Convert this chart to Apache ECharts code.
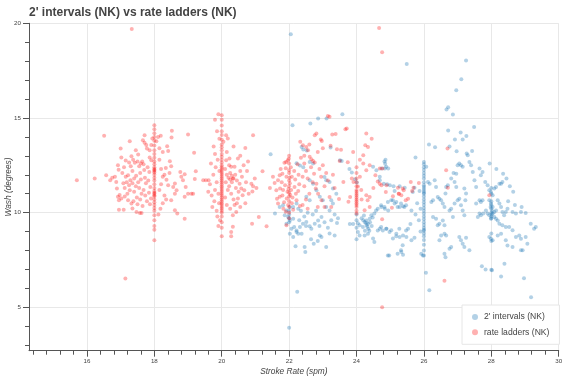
<!DOCTYPE html>
<html>
<head>
<meta charset="utf-8">
<script src="https://cdn.jsdelivr.net/npm/echarts@6/dist/echarts.min.js"></script>
<style>
html,body{margin:0;padding:0;background:#fff;}
#chart{width:564px;height:380px;}
</style>
</head>
<body>
<div id="chart"></div>
<script>
// ---- Data: [stroke rate (spm), wash (degrees)] ----
const ladders18 = [
[15.70,11.71],[16.23,11.80],[16.51,14.06],[16.57,11.98],[16.69,11.71],[16.75,11.85],[16.83,11.89],[16.92,12.50],[16.94,12.27],[17.00,13.39],[17.02,12.91],[16.87,11.62],[16.89,11.27],[16.92,10.84],[16.95,10.66],[16.97,10.93],[17.02,10.75],[16.95,10.16],[17.09,10.16],[17.27,13.77],[17.22,11.98],[17.25,11.45],[17.29,11.71],[17.27,11.18],[17.22,10.66],[17.32,10.48],[17.35,10.22],[17.32,12.98],[17.37,12.80],[17.42,12.63],[17.45,13.30],[17.52,13.07],[17.47,10.04],[17.57,9.98],[17.62,9.98],[17.71,14.09],[17.66,13.83],[17.71,13.69],[17.76,13.57],[17.78,13.39],[17.86,13.30],[17.91,13.57],[17.94,13.92],[17.86,12.91],[17.91,12.77],
[17.10,12.40],[17.15,11.90],[17.18,11.60],[17.12,11.30],[17.20,11.00],[17.05,12.10],[17.35,12.20],[17.40,11.80],[17.45,11.40],[17.40,11.10],[17.48,10.80],[17.38,10.60],[17.55,12.45],[17.58,12.10],[17.60,11.75],[17.55,11.30],[17.62,11.00],[17.58,10.70],[17.50,10.45],[17.68,12.55],[17.70,12.25],[17.72,11.85],[17.75,11.55],[17.68,11.20],[17.73,10.90],[17.78,10.60],[17.65,10.35],[17.80,12.40],[17.85,12.15],[17.82,11.70],[17.88,11.35],[17.84,11.05],[17.90,10.75],[17.87,10.45],[17.25,12.65],[17.30,12.45],[17.15,12.75],[17.60,12.60],[17.64,12.70],[17.50,12.70],[17.08,11.55],[17.12,10.85],[17.46,11.95],[17.52,11.60],[17.35,11.55],
[18,14.62],[18,14.40],[18,14.20],[18,14.00],[18,13.80],[18,13.55],[18,13.30],[18,13.10],[18,12.90],[18,12.70],[18,12.55],[18,12.40],[18,12.30],[18,12.25],[18,12.20],[18,12.12],[18,12.00],[18,11.85],[18,11.70],[18,11.50],[18,11.30],[18,11.15],[18,11.05],[18,11.00],[18,10.92],[18,10.85],[18,10.70],[18,10.55],[18,10.40],[18,10.25],[18,10.10],[18,9.86],[18,9.60],[18,9.30],[18,9.10],[18,8.54],
[18.19,14.06],[18.11,14.00],[18.06,13.77],[18.38,13.51],[18.41,13.25],[18.46,12.72],[18.50,12.45],[18.34,12.36],[18.36,11.74],[18.41,11.45],[18.56,11.36],[18.61,11.54],[18.66,11.18],[18.61,11.00],[18.50,10.66],[18.61,10.13],[18.68,9.95],[18.52,14.32],[18.51,13.97],[18.77,12.15],[18.80,11.89],[18.85,11.71],[18.90,12.03],[18.93,11.36],[19.00,11.00],[18.90,10.84],[19.00,14.13],[18.90,9.68],[19.18,13.16],[19.23,12.19],[19.20,11.78],[19.10,11.00],[19.15,11.00],[18.15,12.80],[18.20,12.30],[18.25,11.90],[18.20,11.50],[18.15,11.20],[18.30,10.90],[18.25,10.50],[18.18,10.20],[18.30,12.00],[18.45,12.10],[18.35,10.70],[18.12,9.90],[18.25,13.20],[18.15,13.40]
];
const ladders20 = [
[19.45,11.71],[19.53,11.71],[19.61,11.71],[19.65,11.50],[19.75,12.00],[19.80,11.20],[19.70,10.90],[19.78,10.60],[19.72,10.30],[19.85,10.10],[19.82,12.40],[19.88,12.80],[19.80,13.10],[19.85,11.60],[19.90,11.00],[19.92,10.50],[19.93,12.20],[19.76,13.50],[19.90,15.20],[19.80,14.90],[19.86,14.30],[19.93,13.90],[19.68,12.60],[19.60,11.10],[19.87,9.80],[19.95,9.60],[19.90,9.30],
[20,15.15],[20,14.90],[20,14.60],[20,14.30],[20,14.10],[20,13.85],[20,13.60],[20,13.45],[20,13.30],[20,13.10],[20,12.95],[20,12.80],[20,12.65],[20,12.50],[20,12.40],[20,12.30],[20,12.20],[20,12.10],[20,12.00],[20,11.90],[20,11.80],[20,11.70],[20,11.60],[20,11.50],[20,11.40],[20,11.30],[20,11.20],[20,11.10],[20,11.00],[20,10.90],[20,10.80],[20,10.70],[20,10.60],[20,10.50],[20,10.40],[20,10.30],[20,10.20],[20,10.10],[20,10.00],[20,9.80],[20,9.50],[20,9.20],[20,8.75],
[20.28,8.75],[20.28,8.98],[20.33,9.25],[20.13,14.09],[20.18,13.92],[20.05,13.74],[20.13,12.77],[20.23,12.86],[20.38,12.42],[20.48,12.86],[20.28,12.42],[20.33,11.80],[20.53,11.53],[20.58,11.27],[20.62,10.92],[20.48,10.75],[20.38,10.40],[20.43,10.04],[20.33,9.86],[20.67,11.18],[20.70,13.42],[20.93,14.09],[20.88,11.53],[20.90,9.42],[21.10,9.77],[20.93,11.40],[20.98,11.80],[20.91,11.12],[21.03,11.30],[20.10,12.30],[20.15,12.00],[20.12,11.60],[20.18,11.20],[20.10,10.80],[20.15,10.40],[20.22,12.50],[20.25,12.10],[20.30,11.60],[20.22,11.40],[20.28,11.00],[20.35,10.70],[20.25,10.20],[20.40,12.00],[20.45,11.70],[20.42,11.30],[20.50,11.10],[20.45,10.50],[20.55,12.20],[20.60,11.90],[20.55,10.30],[20.65,12.50],[20.72,11.60],[20.75,12.20],[20.70,10.50],[20.80,11.00],[20.78,12.70],[20.15,13.20],[20.35,13.50],[20.55,13.00],[20.20,11.85],[20.25,11.75],[20.30,11.95],[20.35,11.80]
];
const ladders22 = [
[21.21,12.19],[21.33,9.28],[21.43,11.30],[21.52,11.89],[21.57,11.57],[21.62,11.18],[21.64,10.74],[21.67,10.48],[21.67,11.71],[21.72,11.98],[21.73,11.27],[21.72,10.84],[21.86,12.63],[21.91,12.68],[21.96,12.77],[22.00,12.24],[21.92,9.33],
[21.75,12.30],[21.80,12.05],[21.78,11.60],[21.82,11.20],[21.80,10.90],[21.85,10.55],[21.83,10.20],[21.90,12.35],[21.92,11.90],[21.88,11.45],[21.95,11.10],[21.93,10.75],[21.97,10.40],[21.90,10.05],[22.00,12.60],[22.00,12.10],[22.00,11.70],[22.00,11.40],[22.00,11.05],[22.00,10.85],[22.00,10.60],[22.00,10.30],[22.00,10.00],[22.02,11.55],[22.05,12.40],[22.08,11.90],[22.06,11.20],[22.10,10.80],[22.08,10.50],[22.12,10.15],[22.15,12.20],[22.18,11.75],[22.16,11.35],[22.20,11.00],[22.22,10.65],[22.25,12.55],[22.28,12.00],[22.30,11.50],[22.27,11.15],[22.32,10.35],[21.98,11.25],[22.03,10.95],[22.01,11.85],[21.99,12.85],[22.00,13.00],[22.00,9.70],
[22.33,13.74],[22.41,13.56],[22.51,13.47],[22.56,13.30],[22.61,12.95],[22.66,12.82],[22.71,12.73],[22.76,12.65],[22.76,14.09],[22.81,14.18],[22.94,13.86],[22.97,13.79],[23.15,15.10],[23.20,15.06],[23.28,14.13],[23.38,14.15],[23.23,13.53],[23.42,13.35],[23.54,13.32],[23.61,11.62],[23.67,14.40],[23.71,14.45],[23.50,12.73],[23.74,12.66],[22.74,12.05],[22.81,11.53],[22.79,11.27],[22.86,11.00],[22.96,10.65],[23.05,10.30],[23.20,10.83],[23.25,10.30],[23.48,10.72],
[22.45,12.60],[22.50,12.20],[22.55,11.80],[22.45,11.40],[22.60,11.00],[22.50,10.70],[22.65,12.40],[22.70,11.60],[22.90,12.30],[22.95,11.90],[23.00,12.50],[23.10,12.10],[23.05,11.40],[23.15,11.70],[23.30,12.00],[23.35,11.30],[22.40,10.40],[22.55,10.20],[22.85,10.30],[22.35,12.90],[22.45,13.00],[22.60,13.60],[22.85,13.20],[23.00,13.40],[22.40,11.90]
];
const ladders24 = [
[24,12.40],[24,12.10],[24,11.80],[24,11.60],[24,11.40],[24,11.20],[24,11.10],[24,11.00],[24,10.90],[24,10.80],[24,10.70],[24,10.60],[24,10.50],[24,10.40],[24,10.30],[24,10.10],[24,9.95],
[23.86,11.80],[23.91,11.62],[24.04,11.38],[24.14,11.20],[24.29,10.92],[24.39,10.83],[24.39,10.30],[24.24,10.13],[24.33,10.65],[23.81,10.83],[23.76,10.57],[24.29,14.18],[24.34,13.47],[24.26,13.56],[24.20,13.03],[24.20,12.59],[24.39,12.50],[24.29,12.24],[24.56,11.98],[24.63,11.65],[25.37,11.27],[25.40,11.18],[25.25,11.00],[24.76,9.65],[24.69,12.33],[24.77,12.33],[24.69,11.53],[24.74,11.45],[24.89,11.45],[24.87,11.09],[25.08,10.86],[25.23,11.32],[25.26,11.00],[25.33,10.92],[25.46,10.65],[25.53,10.74],[25.61,11.62],[25.65,11.15],[25.69,11.32],[25.85,11.57],[25.05,10.26],[24.10,12.80],[24.45,13.90],[23.90,13.20],[24.15,10.70],[24.50,11.30],[24.10,11.90]
];
const laddersOther = [
[17.33,19.70],[24.67,19.75],[24.76,18.47],[17.14,6.52],[24.76,5.00],[26.61,6.40],[26.70,13.39],[26.66,12.24],[26.71,11.32],[27.94,10.92]
];

const intervals22 = [
[21.45,13.09],[22.10,14.62],[22.63,14.71],[22.86,14.97],[23.11,14.97],[23.58,15.20],[22.37,13.47],[22.42,13.33],[22.52,13.28],[22.61,12.68],[22.71,12.59],[23.23,13.44],[23.51,12.77],[23.56,12.73],[22.22,12.61],[22.32,12.49],[22.42,12.40],[21.58,9.95],[21.72,10.30],[21.82,10.39],[21.92,10.12],[22.02,10.30],[22.12,10.30],[22.22,10.48],[22.27,10.21],[21.87,9.86],[21.97,9.77],[22.02,9.59],[22.12,9.68],[21.92,9.42],[22.07,9.15],[22.15,9.24],[22.22,9.06],[22.32,9.24],[22.41,9.42],[22.51,9.51],[22.61,9.28],[22.66,9.15],[22.76,9.42],[22.86,9.59],[22.96,9.77],[22.02,8.89],[22.12,8.71],[22.22,8.98],[22.27,8.89],[22.37,8.89],[22.19,8.22],[22.46,8.19],[22.48,7.92],[22.73,8.36],[22.91,8.80],[22.96,8.71],[23.10,8.19],[23.35,8.80],[23.42,9.45],[23.05,11.88],[23.10,11.71],[23.20,11.62],[23.30,11.27],[23.40,11.00],[23.25,10.65],[23.30,10.48],[23.00,10.65],[23.10,10.30],[23.20,10.12],[22.61,11.71],[22.71,11.53],[22.81,11.18],[22.91,10.84],[22.51,10.84],[22.61,10.65],[22.30,9.60],[22.45,9.80],[22.55,10.00],[22.70,9.90],[22.80,10.10],[22.35,10.10],[22.50,9.30],[22.90,9.30],[23.05,9.50],[23.15,9.20],[23.25,9.60],[23.35,9.90],[23.45,9.70],[22.65,8.60],[22.85,8.50],[23.20,8.90],[22.00,9.90],[22.00,9.70],[22.00,9.50],[22.00,10.10]
];
const intervals24 = [
[23.80,9.40],[23.90,9.40],[24.04,9.44],[24.09,9.33],[24.19,9.24],[24.24,9.51],[24.29,9.59],[24.34,9.42],[24.39,9.68],[24.44,9.86],[24.53,9.95],[24.58,10.12],[24.63,10.21],[24.73,10.39],[24.83,10.30],[24.93,10.56],[25.03,10.65],[25.13,10.48],[25.22,10.30],[25.32,10.48],[25.42,10.30],[25.47,10.39],[24.04,8.98],[24.09,8.80],[24.24,8.80],[24.34,8.89],[24.49,8.63],[24.53,8.45],[24.63,9.06],[24.73,9.24],[24.78,9.06],[24.88,9.15],[24.98,8.98],[25.08,8.63],[25.18,8.89],[25.27,9.15],[25.37,8.28],[25.47,9.06],[24.93,7.74],[25.32,8.02],[25.22,7.83],[24.30,9.35],[24.32,9.25],[24.28,9.45],[24.35,9.15],[24.25,9.05],[24.40,9.50],[24.20,9.60],[24.15,9.70],[24.45,9.30],[24.38,9.05],[24.22,9.85],[24.48,9.75],[24.00,9.90],[24.00,9.60],[24.00,9.20],[24.00,8.60],[23.79,12.30],[23.86,12.12],[23.96,11.77],[24.01,11.59],[24.49,12.42],[24.59,12.24],[24.69,11.89],[24.83,12.70],[24.86,12.79],[24.74,12.33],[24.88,12.42],[24.85,12.58],[24.84,12.33],[24.94,12.33],[24.69,11.71],[24.81,11.53],[24.91,11.50],[24.99,11.45],[25.10,11.39],[25.28,11.39],[25.43,11.32],[25.13,11.15],[25.08,10.65],[25.18,10.56],[25.28,10.30],[25.38,10.34],[25.63,10.12],[25.67,11.09],[25.72,11.32],[25.87,11.15],[24.74,10.30],[24.84,10.21],[24.94,10.12],[24.69,9.15],[24.89,9.15],[25.03,9.07],[25.18,8.75],[25.28,8.71],[25.38,8.80],[25.48,8.71],[25.63,8.54],[25.53,9.15],[25.33,7.92],[25.38,7.78],[24.97,7.74],[25.72,8.68],[25.92,7.83],[25.97,7.74],[25.80,10.50],[25.90,10.20],[25.75,9.90],[25.85,9.60],[25.60,9.40],[25.90,9.00],[25.75,12.91]
];
const intervals26 = [
[26,12.68],[26,12.55],[26,12.40],[26,12.25],[26,12.10],[26,11.95],[26,11.80],[26,11.60],[26,11.45],[26,11.35],[26,11.25],[26,11.15],[26,11.05],[26,11.00],[26,10.85],[26,10.70],[26,10.55],[26,10.40],[26,10.25],[26,10.10],[26,9.95],[26,9.80],[26,9.65],[26,9.50],[26,9.35],[26,9.20],[26,9.10],[26,9.05],[26,8.90],[26,8.75],[26,8.55],[26,8.30],[26,8.00],[26,7.74],
[26.15,13.60],[26.33,13.46],[26.07,12.42],[26.12,11.62],[26.17,11.53],[26.22,10.56],[26.27,10.65],[26.32,11.71],[26.36,11.36],[26.41,10.83],[26.46,10.74],[26.51,10.65],[26.56,10.48],[26.61,10.30],[26.64,11.01],[26.66,11.36],[26.71,11.45],[26.27,9.77],[26.36,9.68],[26.41,9.33],[26.46,9.42],[26.56,9.59],[26.61,9.33],[26.51,8.80],[26.46,8.54],[26.61,8.89],[26.66,8.80],[26.76,10.12],[26.81,10.21],[26.86,9.77],[26.91,10.48],[27.00,10.65],[27.05,10.74],[27.10,10.39],[27.15,10.12],[27.20,9.86],[27.23,10.65],[27.25,11.01],[27.20,11.27],[26.96,12.06],[27.00,12.50],[27.05,12.59],[27.10,12.50],[27.15,12.42],[27.27,13.12],[27.30,13.03],[27.35,12.68],[27.40,12.50],[27.43,13.26],[26.81,11.80],[26.91,11.62],[26.96,11.36],[26.88,12.10],[27.05,8.71],[27.10,8.54],[27.15,8.36],[27.20,8.18],[27.25,8.68],[27.35,8.01],[26.81,8.18],[26.76,8.10],[26.64,7.65],[26.61,7.83],[26.72,15.56],[26.67,15.45],[26.86,15.18],[27.49,14.53],[26.72,14.34],[27.09,14.23],[27.26,14.05],[26.76,13.50],[26.92,13.86],[27.15,13.86],[26.97,13.24]
];
const intervals28 = [
[27.45,12.15],[27.50,11.71],[27.55,11.36],[27.65,12.33],[27.69,11.98],[27.74,12.15],[27.65,10.65],[27.69,10.56],[27.74,10.65],[27.55,10.48],[27.60,9.77],[27.65,9.95],[27.69,9.86],[27.76,9.95],[27.82,11.62],[27.89,11.45],[27.94,11.18],[27.99,11.09],[28.04,10.92],[28.09,11.27],[28.14,11.36],[28.24,11.53],[28.29,11.53],[28.33,11.62],[28.45,11.80],[27.94,10.65],[27.99,10.48],[28.04,10.30],[28.09,10.04],[28.14,10.12],[28.19,10.65],[28.24,10.48],[28.29,10.30],[28.33,10.04],[28.38,9.86],[28.43,10.04],[28.48,10.21],[27.84,10.12],[27.89,9.95],[27.94,9.86],[27.99,9.68],[28.04,9.95],[28.09,9.77],[28.14,9.68],[28.19,9.59],[28.24,9.42],[28.33,9.33],[28.43,9.24],[28.53,9.24],[28.63,9.07],[28.73,8.71],[28.83,8.80],[28.88,8.62],[29.02,8.71],[29.17,9.42],[29.27,9.15],[29.32,9.24],[29.07,8.36],[27.94,8.71],[27.99,8.62],[28.04,8.54],[28.19,8.80],[28.29,8.89],[28.43,8.54],[28.48,8.27],[28.63,8.18],[28.93,8.01],[28.88,8.01],[28.63,10.04],[28.73,9.95],[28.88,10.04],[29.02,9.98],[28.00,10.60],[28.00,10.40],[28.00,10.20],[28.00,10.00],[28.00,9.80],[28.00,9.70],[28.02,10.10],[27.98,10.30],[28.01,9.90],[28.00,11.00],[28.00,11.30],[28.00,8.90],[28.00,8.50],[27.95,12.60],[28.15,12.30],[28.35,12.05],[28.55,11.40],[28.65,11.10],[28.50,10.60],[28.70,10.40],[28.90,10.30]
];
const intervalsOther = [
[22.05,19.42],[25.49,17.85],[27.25,18.04],[27.11,17.04],[26.96,16.47],[22.00,3.92],[22.24,5.82],[26.16,5.90],[29.18,5.53],[28.97,6.54],[28.29,6.63],[28.39,7.30],[28.02,6.96],[28.00,6.98],[27.72,7.17],[27.83,7.00],[26.06,6.83]
];

const seriesNames = ["2' intervals (NK)", "rate ladders (NK)"];
const titleText = "2' intervals (NK) vs rate ladders (NK)";
const xName = "Stroke Rate (spm)";
const yName = "Wash (degrees)";
const X_MIN = 14.28, X_MAX = 30, Y_MIN = 2.71, Y_MAX = 20;

// ---- Layout ----
const W = 564, H = 380;
const G = {left: 29, right: 5.3, top: 23.3, bottom: 29.3};
const pxX = (W - G.left - G.right) / (X_MAX - X_MIN);
const pxY = (H - G.top - G.bottom) / (Y_MAX - Y_MIN);
const AXIS = '#555', TXT = '#444', GRIDC = '#e8e8e8';
const FONT = 'Liberation Sans, Arial, sans-serif';

const intervals = [].concat(intervals22, intervals24, intervals26, intervals28, intervalsOther);
const ladders = [].concat(ladders18, ladders20, ladders22, ladders24, laddersOther);

function gridBox(l, b) {
  return {left: l, right: G.right, top: G.top, bottom: b, containLabel: false, outerBoundsMode: 'none'};
}
function xTickGrid(min) { return gridBox(G.left + (min - X_MIN) * pxX, G.bottom); }
function yTickGrid(min) { return gridBox(G.left, G.bottom + (min - Y_MIN) * pxY); }

const chart = echarts.init(document.getElementById('chart'), null, {renderer: 'canvas'});
chart.setOption({
  animation: false,
  backgroundColor: '#fff',
  title: {
    text: titleText, left: 29, top: 7, padding: 0,
    textStyle: {fontFamily: FONT, fontSize: 12, fontWeight: 'bold', color: TXT}
  },
  legend: {
    data: seriesNames,
    orient: 'vertical',
    left: 462, top: 305,
    padding: [7, 10, 7, 10],
    itemGap: 5.3,
    itemWidth: 6, itemHeight: 6,
    icon: 'circle',
    backgroundColor: '#fff',
    borderColor: '#e6e6e6', borderWidth: 1,
    textStyle: {fontFamily: FONT, fontSize: 8.6, color: TXT, lineHeight: 10, padding: [0, 0, 0, 1]}
  },
  grid: [
    gridBox(G.left, G.bottom),
    xTickGrid(14.4), xTickGrid(16), yTickGrid(3), yTickGrid(5)
  ],
  xAxis: [
    {
      type: 'value', gridIndex: 0, min: X_MIN, max: X_MAX, minInterval: 2, maxInterval: 2, splitNumber: 8,
      name: xName, nameLocation: 'middle', nameGap: 17, nameMoveOverlap: false,
      nameTextStyle: {fontFamily: FONT, fontStyle: 'italic', fontSize: 8.3, color: TXT},
      axisLine: {show: true, lineStyle: {color: AXIS, width: 1}},
      axisTick: {show: false},
      axisLabel: {fontFamily: FONT, fontSize: 6.2, color: TXT, margin: 8, showMinLabel: false},
      splitLine: {show: true, lineStyle: {color: GRIDC, width: 1}}
    },
    {type: 'value', gridIndex: 1, min: 14.4, max: X_MAX, interval: 0.4, axisLine: {show: false}, axisTick: {show: true, length: 4, lineStyle: {color: AXIS}}, axisLabel: {show: false}, splitLine: {show: false}},
    {type: 'value', gridIndex: 2, min: 16, max: X_MAX, interval: 2, axisLine: {show: false}, axisTick: {show: true, length: 6, lineStyle: {color: AXIS}}, axisLabel: {show: false}, splitLine: {show: false}},
    {type: 'value', gridIndex: 3, show: false, min: X_MIN, max: X_MAX},
    {type: 'value', gridIndex: 4, show: false, min: X_MIN, max: X_MAX}
  ],
  yAxis: [
    {
      type: 'value', gridIndex: 0, min: Y_MIN, max: Y_MAX, minInterval: 5, maxInterval: 5, splitNumber: 4,
      name: yName, nameLocation: 'middle', nameGap: 16.5, nameMoveOverlap: false,
      nameTextStyle: {fontFamily: FONT, fontStyle: 'italic', fontSize: 8.3, color: TXT},
      axisLine: {show: true, lineStyle: {color: AXIS, width: 1}},
      axisTick: {show: false},
      axisLabel: {fontFamily: FONT, fontSize: 6.2, color: TXT, margin: 8, showMinLabel: false},
      splitLine: {show: true, lineStyle: {color: GRIDC, width: 1}}
    },
    {type: 'value', gridIndex: 1, show: false, min: Y_MIN, max: Y_MAX},
    {type: 'value', gridIndex: 2, show: false, min: Y_MIN, max: Y_MAX},
    {type: 'value', gridIndex: 3, min: 3, max: Y_MAX, interval: 1, axisLine: {show: false}, axisTick: {show: true, length: 4, lineStyle: {color: AXIS}}, axisLabel: {show: false}, splitLine: {show: false}},
    {type: 'value', gridIndex: 4, min: 5, max: Y_MAX, interval: 5, axisLine: {show: false}, axisTick: {show: true, length: 6, lineStyle: {color: AXIS}}, axisLabel: {show: false}, splitLine: {show: false}}
  ],
  series: [
    {
      name: seriesNames[0], type: 'scatter', xAxisIndex: 0, yAxisIndex: 0,
      data: intervals, symbol: 'circle', symbolSize: 4,
      itemStyle: {color: 'rgba(31,119,180,0.42)', borderWidth: 0}
    },
    {
      name: seriesNames[1], type: 'scatter', xAxisIndex: 0, yAxisIndex: 0,
      data: ladders, symbol: 'circle', symbolSize: 4,
      itemStyle: {color: 'rgba(255,0,0,0.38)', borderWidth: 0}
    }
  ]
});
</script>
</body>
</html>
